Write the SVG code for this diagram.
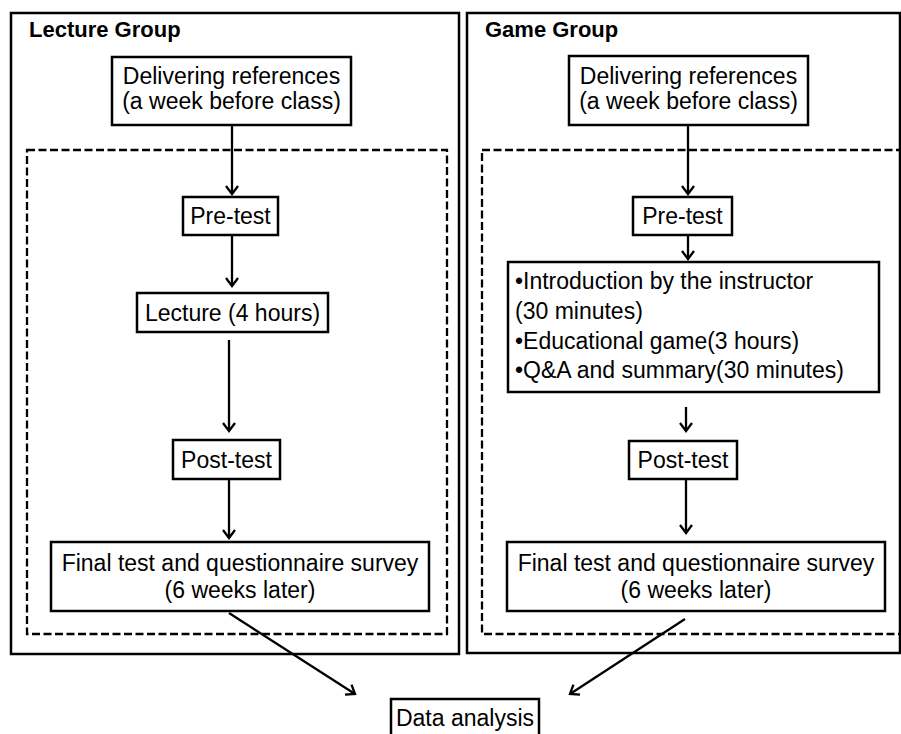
<svg xmlns="http://www.w3.org/2000/svg" width="901" height="734" viewBox="0 0 901 734">
<defs>
<style>
.box{fill:#fff;stroke:#000;stroke-width:2.5}
.outer{fill:none;stroke:#000;stroke-width:2.5}
.dash{fill:none;stroke:#000;stroke-width:2.3;stroke-dasharray:8 3.5}
.t{font-family:"Liberation Sans",Arial,sans-serif;font-size:23px;fill:#000}
.c{text-anchor:middle}
.h{font-family:"Liberation Sans",Arial,sans-serif;font-size:22px;font-weight:bold;fill:#000}
.ln{stroke:#000;stroke-width:2.3;fill:none;marker-end:url(#ah)}
</style>
<marker id="ah" viewBox="-10 -8 12 16" refX="0" refY="0" markerWidth="12" markerHeight="16" markerUnits="userSpaceOnUse" orient="auto">
<path d="M-8,-6 L0,0 L-8,6" fill="none" stroke="#000" stroke-width="2.3"/>
</marker>
</defs>
<rect width="901" height="734" fill="#fff"/>

<g id="lecture-group">
<rect class="outer" x="11" y="13" width="448" height="641"/>
<text class="h" x="29" y="37">Lecture Group</text>
<rect class="dash" x="27" y="150" width="420" height="484"/>
</g>
<g id="game-group">
<rect class="outer" x="467" y="13" width="433" height="640"/>
<text class="h" x="485" y="37">Game Group</text>
<rect class="dash" x="482" y="150" width="430" height="484"/>
</g>

<g id="connectors">
<line class="ln" x1="232" y1="125" x2="232" y2="194"/>
<line class="ln" x1="232" y1="235" x2="232" y2="286"/>
<line class="ln" x1="229" y1="340" x2="229" y2="431"/>
<line class="ln" x1="229" y1="479" x2="229" y2="538"/>
<line class="ln" x1="229" y1="613" x2="355" y2="694"/>
<line class="ln" x1="688" y1="125" x2="688" y2="194"/>
<line class="ln" x1="688" y1="235" x2="688" y2="259"/>
<line class="ln" x1="686" y1="407" x2="686" y2="431"/>
<line class="ln" x1="686" y1="479" x2="686" y2="533"/>
<line class="ln" x1="685" y1="619" x2="570" y2="694"/>
</g>

<g id="l-deliver">
<rect class="box" x="112" y="57" width="239" height="68"/>
<text class="t c" x="231.5" y="84">Delivering references</text>
<text class="t c" x="231.5" y="109">(a week before class)</text>
</g>
<g id="l-pretest">
<rect class="box" x="183" y="197" width="95" height="38"/>
<text class="t c" x="230.5" y="224">Pre-test</text>
</g>
<g id="l-lecture">
<rect class="box" x="137" y="293" width="191" height="39"/>
<text class="t c" x="232.5" y="321">Lecture (4 hours)</text>
</g>
<g id="l-posttest">
<rect class="box" x="173" y="440" width="107" height="39"/>
<text class="t c" x="226.5" y="468">Post-test</text>
</g>
<g id="l-final">
<rect class="box" x="51" y="542" width="378" height="69"/>
<text class="t c" x="240" y="571">Final test and questionnaire survey</text>
<text class="t c" x="240" y="598">(6 weeks later)</text>
</g>

<g id="g-deliver">
<rect class="box" x="569" y="56" width="239" height="69"/>
<text class="t c" x="688.5" y="84">Delivering references</text>
<text class="t c" x="688.5" y="109">(a week before class)</text>
</g>
<g id="g-pretest">
<rect class="box" x="633" y="197" width="99" height="38"/>
<text class="t c" x="682.5" y="224">Pre-test</text>
</g>
<g id="g-activities">
<rect class="box" x="508" y="262" width="371" height="130"/>
<text class="t" x="515" y="289">•Introduction by the instructor</text>
<text class="t" x="515" y="319">(30 minutes)</text>
<text class="t" x="515" y="349">•Educational game(3 hours)</text>
<text class="t" x="515" y="378">•Q&amp;A and summary(30 minutes)</text>
</g>
<g id="g-posttest">
<rect class="box" x="629" y="441" width="108" height="38"/>
<text class="t c" x="683" y="468">Post-test</text>
</g>
<g id="g-final">
<rect class="box" x="507" y="542" width="378" height="69"/>
<text class="t c" x="696" y="571">Final test and questionnaire survey</text>
<text class="t c" x="696" y="598">(6 weeks later)</text>
</g>

<g id="data-analysis">
<rect class="box" x="391" y="699" width="148" height="45"/>
<text class="t c" x="465" y="726">Data analysis</text>
</g>
</svg>
